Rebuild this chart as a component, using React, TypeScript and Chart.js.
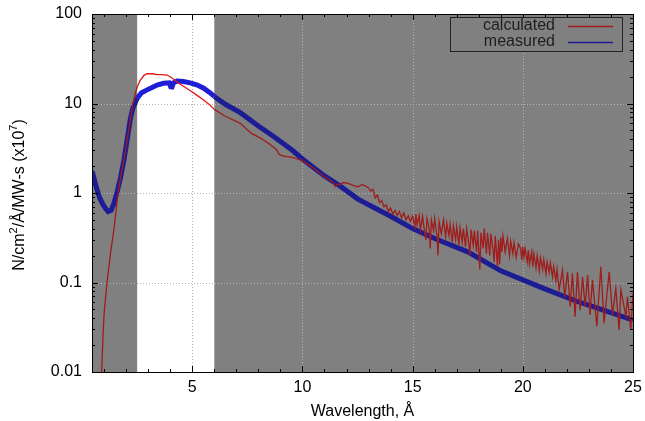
import React, { useEffect, useRef } from "react";
import { Chart, registerables } from "chart.js";
Chart.register(...registerables);

const seriesNames = ["calculated", "measured"];
const xTicks = [5, 10, 15, 20, 25];
const yTicks = [0.01, 0.1, 1, 10, 100];
const yTickLabels = ["0.01", "0.1", "1", "10", "100"];
const xRange = [0.45, 25];
const yRange = [0.01, 100];
const xMinorStep = 1;
const whiteBand = [2.5, 6];
const xTitle = "Wavelength, Å";

// measured spectrum [wavelength, value]
const measured: [number, number][] = [
  [0.45, 1.75], [0.5, 1.59], [0.65, 1.15], [0.8, 0.88], [0.95, 0.74], [1.05, 0.68], [1.18, 0.62], [1.32, 0.64],
  [1.45, 0.77], [1.59, 1.03], [1.75, 1.5], [1.9, 2.34], [2.05, 4.0], [2.18, 6.5], [2.3, 8.8], [2.5, 11.5],
  [2.7, 13.2], [2.95, 14.2], [3.2, 15.2], [3.4, 16.1], [3.7, 16.8], [3.95, 17.0], [4.02, 15.4], [4.08, 15.3],
  [4.15, 17.0], [4.31, 17.8], [4.6, 17.6], [4.9, 17.0], [5.2, 16.2], [5.5, 14.9], [5.8, 13.2], [6.0, 12.0],
  [6.5, 9.8], [7.18, 7.9], [8.0, 5.6], [8.68, 4.3], [9.54, 3.0], [10.0, 2.4], [10.59, 1.85], [11.0, 1.55],
  [11.7, 1.2], [12.5, 0.86], [13.0, 0.74], [14.0, 0.55], [15.0, 0.4], [16.0, 0.31], [17.5, 0.22], [19.0, 0.135],
  [20.0, 0.107], [21.0, 0.085], [22.5, 0.061], [24.0, 0.046], [25.0, 0.038],
];

// calculated spectrum [wavelength, value]
const calculated: [number, number][] = [
  [0.88, 0.009], [0.95, 0.025], [1.0, 0.045], [1.13, 0.1], [1.31, 0.23], [1.45, 0.4], [1.63, 1.0], [1.77, 1.6],
  [1.95, 2.8], [2.04, 3.9], [2.18, 6.3], [2.31, 10], [2.45, 14], [2.5, 15.3], [2.63, 18], [2.8, 20.5], [2.95, 21.5],
  [3.2, 21.5], [3.4, 21], [3.6, 21], [3.86, 20.8], [4.05, 19.5], [4.31, 17.4], [4.6, 15.6], [4.9, 14], [5.2, 12.4],
  [5.5, 11], [5.8, 9.6], [6.0, 8.6], [6.5, 7.2], [7.18, 6.0], [7.7, 4.6], [8.1, 4.1], [8.45, 3.6], [8.8, 3.1],
  [8.95, 2.7], [9.1, 2.6], [9.3, 2.55], [9.55, 2.5], [10.0, 2.3], [10.5, 1.9], [11.0, 1.5], [11.2, 1.42],
  [11.4, 1.3], [11.5, 1.18], [11.6, 1.27], [11.7, 1.23], [11.85, 1.31], [12.05, 1.29], [12.3, 1.22], [12.5, 1.17],
  [12.7, 1.24], [12.85, 1.2], [13.0, 1.14], [13.1, 1.05], [13.2, 1.1], [13.3, 0.88], [13.4, 0.95], [13.5, 0.78],
  [13.6, 0.82], [13.7, 0.7], [13.8, 0.74], [13.9, 0.62], [14.0, 0.68], [14.1, 0.58], [14.2, 0.64], [14.3, 0.56],
  [14.4, 0.62], [14.5, 0.53], [14.6, 0.6], [14.7, 0.5], [14.8, 0.56], [14.9, 0.48],
  [15.0, 0.55], [15.1, 0.42], [15.15, 0.58], [15.2, 0.44], [15.3, 0.56], [15.35, 0.38], [15.45, 0.55], [15.5, 0.44],
  [15.6, 0.3], [15.65, 0.52], [15.75, 0.4], [15.8, 0.24], [15.85, 0.5], [15.95, 0.38], [16.0, 0.52], [16.1, 0.34],
  [16.15, 0.2], [16.2, 0.48], [16.3, 0.35], [16.4, 0.5], [16.5, 0.32], [16.55, 0.46], [16.65, 0.33], [16.7, 0.45],
  [16.8, 0.28], [16.85, 0.43], [16.95, 0.3], [17.0, 0.42], [17.1, 0.26], [17.15, 0.41], [17.25, 0.28], [17.3, 0.4],
  [17.4, 0.25], [17.45, 0.4], [17.55, 0.27], [17.6, 0.2], [17.65, 0.39], [17.75, 0.26], [17.8, 0.38], [17.9, 0.22],
  [17.95, 0.38], [18.05, 0.14], [18.1, 0.36], [18.2, 0.24], [18.25, 0.4], [18.35, 0.21], [18.4, 0.36], [18.5, 0.2],
  [18.55, 0.35], [18.65, 0.23], [18.7, 0.17], [18.75, 0.33], [18.85, 0.15], [18.9, 0.3], [18.95, 0.16], [19.0, 0.32],
  [19.05, 0.22], [19.1, 0.33], [19.2, 0.22], [19.3, 0.31], [19.4, 0.2], [19.45, 0.29], [19.55, 0.21], [19.6, 0.28],
  [19.7, 0.19], [19.8, 0.27], [19.9, 0.24], [19.95, 0.18], [20.0, 0.25], [20.05, 0.19], [20.1, 0.24], [20.2, 0.17],
  [20.25, 0.23], [20.3, 0.16], [20.4, 0.22], [20.45, 0.15], [20.5, 0.21], [20.6, 0.145], [20.65, 0.2], [20.75, 0.135],
  [20.8, 0.19], [20.9, 0.14], [20.95, 0.18], [21.05, 0.125], [21.1, 0.17], [21.2, 0.13], [21.25, 0.165], [21.35, 0.115],
  [21.4, 0.15], [21.5, 0.105], [21.55, 0.14],
  [21.65, 0.083], [21.8, 0.138], [21.9, 0.069], [22.03, 0.132], [22.15, 0.0537], [22.25, 0.127], [22.37, 0.0415],
  [22.48, 0.132], [22.6, 0.049], [22.71, 0.116], [22.83, 0.0537], [22.94, 0.121], [23.05, 0.0434], [23.16, 0.107],
  [23.36, 0.0322], [23.54, 0.15], [23.69, 0.035], [23.92, 0.132], [24.07, 0.0434], [24.22, 0.086], [24.37, 0.0295],
  [24.45, 0.083], [24.68, 0.0415], [24.75, 0.069], [24.9, 0.0295], [25.0, 0.076],
];

const FONT = "'Liberation Sans', Arial, sans-serif";
const lineColors = {
  calcBright: "#e61616",
  calcDark: "#a01c1c",
  measBright: "#1e1ed6",
  measDark: "#1c1c94",
};

const inBand = (a: number, b: number) => {
  const m = (a + b) / 2;
  return m > whiteBand[0] && m < whiteBand[1];
};

const framePlugin = {
  id: "frame",
  beforeDatasetsDraw(chart: any) {
    const { ctx, chartArea: a, scales } = chart;
    const x = scales.x;
    const y = scales.y;
    const b0 = x.getPixelForValue(whiteBand[0]);
    const b1 = x.getPixelForValue(whiteBand[1]);
    ctx.save();
    ctx.fillStyle = "rgb(128,128,128)";
    ctx.fillRect(a.left, a.top, a.right - a.left, a.bottom - a.top);
    ctx.fillStyle = "#fff";
    ctx.fillRect(b0, a.top, b1 - b0, a.bottom - a.top);
    // grid
    ctx.strokeStyle = "#b4b4b4";
    ctx.lineWidth = 1;
    ctx.setLineDash([1, 2]);
    ctx.beginPath();
    xTicks.forEach((v) => {
      if (v >= xRange[1]) return;
      const px = Math.round(x.getPixelForValue(v)) + 0.5;
      ctx.moveTo(px, a.top);
      ctx.lineTo(px, a.bottom);
    });
    yTicks.forEach((v) => {
      if (v <= yRange[0] || v >= yRange[1]) return;
      const py = Math.round(y.getPixelForValue(v)) + 0.5;
      ctx.moveTo(a.left, py);
      ctx.lineTo(a.right, py);
    });
    ctx.stroke();
    ctx.restore();
  },
  afterDraw(chart: any) {
    const { ctx, chartArea: a, scales } = chart;
    const x = scales.x;
    const y = scales.y;
    ctx.save();
    // ticks
    ctx.strokeStyle = "#000";
    ctx.lineWidth = 1;
    ctx.beginPath();
    for (let v = Math.ceil(xRange[0]); v <= xRange[1]; v += xMinorStep) {
      const px = Math.round(x.getPixelForValue(v)) + 0.5;
      const len = xTicks.includes(v) ? 6 : 3;
      ctx.moveTo(px, a.bottom);
      ctx.lineTo(px, a.bottom - len);
      ctx.moveTo(px, a.top);
      ctx.lineTo(px, a.top + len);
    }
    yTicks.forEach((d, i) => {
      if (i === yTicks.length - 1) return;
      for (let m = 1; m <= 9; m++) {
        const v = d * m;
        const py = Math.round(y.getPixelForValue(v)) + 0.5;
        const len = m === 1 ? 6 : 3;
        ctx.moveTo(a.left, py);
        ctx.lineTo(a.left + len, py);
        ctx.moveTo(a.right, py);
        ctx.lineTo(a.right - len, py);
      }
    });
    ctx.stroke();
    // border
    ctx.strokeRect(Math.round(a.left) + 0.5, Math.round(a.top) + 0.5, Math.round(a.right - a.left), Math.round(a.bottom - a.top));
    // legend
    const lx = 450, ly = 17, lw = 172, lh = 34;
    ctx.fillStyle = "rgb(128,128,128)";
    ctx.fillRect(lx, ly, lw, lh);
    ctx.strokeStyle = "#222";
    ctx.strokeRect(lx + 0.5, ly + 0.5, lw, lh);
    ctx.font = "16px " + FONT;
    ctx.textAlign = "right";
    ctx.textBaseline = "middle";
    ctx.fillStyle = "#1e1e1e";
    const legendColors = [lineColors.calcDark, lineColors.measDark];
    seriesNames.forEach((name, i) => {
      const cy = ly + 9 + i * 16;
      ctx.fillText(name, 555, cy);
      ctx.strokeStyle = legendColors[i];
      ctx.lineWidth = 1.5;
      ctx.beginPath();
      ctx.moveTo(568, cy + 0.5);
      ctx.lineTo(613, cy + 0.5);
      ctx.stroke();
    });
    // x title
    ctx.fillStyle = "#000";
    ctx.textAlign = "center";
    ctx.textBaseline = "middle";
    ctx.font = "16px " + FONT;
    ctx.fillText(xTitle, (a.left + a.right) / 2, 412);
    // y title with superscripts
    const parts: [string, boolean][] = [["N/cm", false], ["2", true], ["/Å/MW-s (x10", false], ["7", true], [")", false]];
    const big = "16px " + FONT;
    const small = "11px " + FONT;
    let total = 0;
    parts.forEach(([t, s]) => { ctx.font = s ? small : big; total += ctx.measureText(t).width; });
    ctx.translate(24, (a.top + a.bottom) / 2 + 2);
    ctx.rotate(-Math.PI / 2);
    ctx.textAlign = "left";
    ctx.textBaseline = "alphabetic";
    let cx = -total / 2;
    parts.forEach(([t, s]) => {
      ctx.font = s ? small : big;
      ctx.fillText(t, cx, s ? -7 : 0);
      cx += ctx.measureText(t).width;
    });
    ctx.restore();
  },
};

export default function App() {
  const ref = useRef<HTMLCanvasElement>(null);
  useEffect(() => {
    if (!ref.current) return;
    const chart = new Chart(ref.current, {
      type: "scatter",
      data: {
        datasets: [
          {
            label: seriesNames[0],
            data: calculated.map(([x, y]) => ({ x, y })),
            showLine: true,
            borderColor: lineColors.calcDark,
            borderWidth: 1.3,
            pointRadius: 0,
            tension: 0,
            segment: {
              borderColor: (c: any) => (inBand(c.p0.parsed.x, c.p1.parsed.x) ? lineColors.calcBright : lineColors.calcDark),
            },
          },
          {
            label: seriesNames[1],
            data: measured.map(([x, y]) => ({ x, y })),
            showLine: true,
            borderColor: lineColors.measDark,
            borderWidth: 5,
            pointRadius: 0,
            tension: 0,
            segment: {
              borderColor: (c: any) => (inBand(c.p0.parsed.x, c.p1.parsed.x) ? lineColors.measBright : lineColors.measDark),
            },
          },
        ],
      },
      options: {
        responsive: false,
        animation: false,
        layout: { padding: { left: 0, top: 14, right: 12, bottom: 0 } },
        plugins: { legend: { display: false }, tooltip: { enabled: false } },
        scales: {
          x: {
            type: "linear",
            min: xRange[0],
            max: xRange[1],
            grid: { display: false, drawTicks: false },
            border: { display: false },
            afterBuildTicks: (s: any) => { s.ticks = xTicks.map((v) => ({ value: v })); },
            afterFit: (s: any) => { s.height = 49; s.paddingLeft = 0; s.paddingRight = 0; },
            ticks: { autoSkip: false, maxRotation: 0, padding: 6, color: "#000", font: { size: 16, family: FONT } },
          },
          y: {
            type: "logarithmic",
            min: yRange[0],
            max: yRange[1],
            grid: { display: false, drawTicks: false },
            border: { display: false },
            afterBuildTicks: (s: any) => { s.ticks = yTicks.map((v) => ({ value: v })); },
            afterFit: (s: any) => { s.width = 92; s.paddingTop = 0; s.paddingBottom = 0; },
            ticks: {
              autoSkip: false,
              padding: 10,
              color: "#000",
              font: { size: 16, family: FONT },
              callback: (v: any) => { const i = yTicks.indexOf(Number(v)); return i >= 0 ? yTickLabels[i] : ""; },
            },
          },
        },
      },
      plugins: [framePlugin],
    } as any);
    return () => chart.destroy();
  }, []);
  return (
    <div style={{ position: "absolute", left: 0, top: 0, width: 645, height: 421, background: "#fff" }}>
      <canvas ref={ref} width={645} height={421} style={{ width: 645, height: 421, display: "block" }} />
    </div>
  );
}
